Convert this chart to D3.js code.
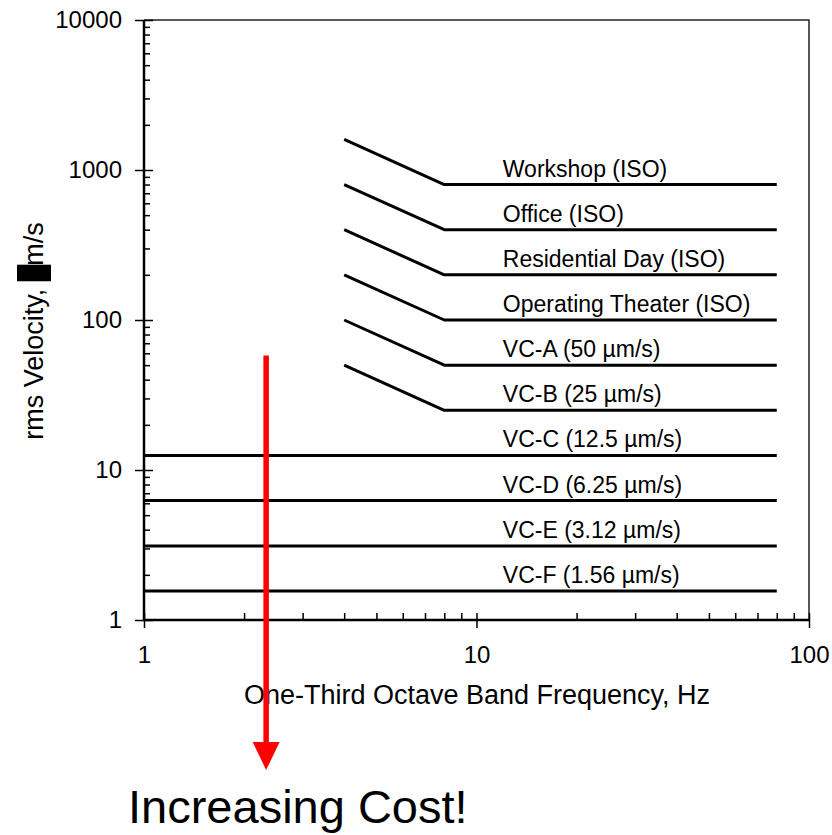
<!DOCTYPE html>
<html>
<head>
<meta charset="utf-8">
<script src="https://cdn.jsdelivr.net/npm/d3@7"></script>
<style>
  html, body { margin: 0; padding: 0; background: #fff; }
  svg { display: block; font-family: "Liberation Sans", Arial, sans-serif; }
</style>
</head>
<body>
<svg id="chart" width="832" height="835"></svg>
<script>
// ---- data ----
const slopedNames = ["Workshop (ISO)", "Office (ISO)", "Residential Day (ISO)", "Operating Theater (ISO)", "VC-A (50 \u00b5m/s)", "VC-B (25 \u00b5m/s)"];
const slopedFreqs = [4, 8, 80];
const slopedValues = [
  [1600, 800, 800],
  [800, 400, 400],
  [400, 200, 200],
  [200, 100, 100],
  [100, 50, 50],
  [50, 25, 25]
];
const flatNames = ["VC-C (12.5 \u00b5m/s)", "VC-D (6.25 \u00b5m/s)", "VC-E (3.12 \u00b5m/s)", "VC-F (1.56 \u00b5m/s)"];
const flatFreqs = [1, 80];
const flatValues = [12.5, 6.25, 3.12, 1.56];
const xTickValues = [1, 10, 100];
const yTickValues = [1, 10, 100, 1000, 10000];
const arrowFreq = 2.33;
const arrowFrom = 58;
const arrowTo = 0.1;
const xTitle = "One-Third Octave Band Frequency, Hz";
const yTitlePre = "rms Velocity, ";
const yTitleMu = "\u03bc";
const yTitlePost = "m/s";
const noteText = "Increasing Cost!";

// ---- layout ----
const svg = d3.select("#chart");
const L = 144, R = 809, T = 20, B = 620;
const x = d3.scaleLog().domain([1, 100]).range([L, R]);
const y = d3.scaleLog().domain([1, 10000]).range([B, T]);

// frame (top & right)
svg.append("path")
  .attr("d", `M${L},${T}H${R}V${B}`)
  .attr("fill", "none").attr("stroke", "#222").attr("stroke-width", 1.5);

// minor ticks
const yMinor = [];
for (let d = 1; d < 10000; d *= 10) for (let k = 2; k <= 9; k++) yMinor.push(d * k);
const xMinor = [];
for (let d = 1; d < 100; d *= 10) for (let k = 2; k <= 9; k++) xMinor.push(d * k);

const gx = svg.append("g").attr("transform", `translate(0,${B})`);
gx.call(d3.axisBottom(x).tickValues(xMinor).tickSize(-7).tickFormat(""))
  .call(g => g.select(".domain").remove());
gx.call(g => g.selectAll(".tick line").attr("stroke", "#000").attr("stroke-width", 1.5));
const gxMaj = svg.append("g").attr("transform", `translate(0,${B})`);
gxMaj.call(d3.axisBottom(x).tickValues(xTickValues).tickSize(8).tickFormat(d3.format("d")).tickPadding(18))
  .call(g => g.select(".domain").remove());
gxMaj.selectAll(".tick line").attr("y1", -7).attr("stroke", "#000").attr("stroke-width", 1.5);
gxMaj.selectAll(".tick text").attr("font-size", 24).attr("fill", "#000").attr("font-family", "Liberation Sans, Arial, sans-serif");

const gy = svg.append("g").attr("transform", `translate(${L},0)`);
gy.call(d3.axisRight(y).tickValues(yMinor).tickSize(6).tickFormat(""))
  .call(g => g.select(".domain").remove());
gy.selectAll(".tick line").attr("stroke", "#000").attr("stroke-width", 1.5);
const gyMaj = svg.append("g").attr("transform", `translate(${L},0)`);
gyMaj.call(d3.axisLeft(y).tickValues(yTickValues).tickSize(9).tickFormat(d3.format("d")).tickPadding(13))
  .call(g => g.select(".domain").remove());
gyMaj.selectAll(".tick line").attr("x2", 9).attr("x1", -9).attr("stroke", "#000").attr("stroke-width", 1.5);
gyMaj.selectAll(".tick text").attr("font-size", 24).attr("fill", "#000").attr("font-family", "Liberation Sans, Arial, sans-serif");

// axis lines
svg.append("line").attr("x1", L).attr("x2", L).attr("y1", T).attr("y2", B + 1)
  .attr("stroke", "#000").attr("stroke-width", 2.5);
svg.append("line").attr("x1", L - 1).attr("x2", R).attr("y1", B).attr("y2", B)
  .attr("stroke", "#000").attr("stroke-width", 2.5);

// series
const line = d3.line().x(d => x(d[0])).y(d => y(d[1]));
const series = slopedNames.map((n, i) => ({ name: n, pts: slopedFreqs.map((f, j) => [f, slopedValues[i][j]]), level: slopedValues[i][2] }))
  .concat(flatNames.map((n, i) => ({ name: n, pts: flatFreqs.map(f => [f, flatValues[i]]), level: flatValues[i] })));

svg.append("g").selectAll("path").data(series).join("path")
  .attr("d", d => line(d.pts))
  .attr("fill", "none").attr("stroke", "#000").attr("stroke-width", 3)
  .attr("stroke-linejoin", "round");

// labels
svg.append("g").selectAll("text").data(series).join("text")
  .attr("x", x(12)).attr("y", d => y(d.level) - 8)
  .attr("font-size", 23).attr("fill", "#000")
  .text(d => d.name);

// axis titles
svg.append("text").attr("x", 477).attr("y", 704).attr("text-anchor", "middle")
  .attr("font-size", 27).attr("fill", "#000").text(xTitle);

const yt = svg.append("g").attr("transform", "translate(43,331) rotate(-90)");
const ytxt = yt.append("text").attr("text-anchor", "middle").attr("font-size", 27).attr("fill", "#000");
ytxt.append("tspan").text(yTitlePre);
ytxt.append("tspan").text(yTitleMu);
ytxt.append("tspan").text(yTitlePost);
try {
  const ext = ytxt.node().getExtentOfChar(yTitlePre.length);
  yt.append("rect").attr("x", ext.x).attr("y", ext.y - 2).attr("width", ext.width + 1).attr("height", ext.height + 4).attr("fill", "#000");
} catch (e) {}

// red arrow
const ax = x(arrowFreq);
const tipY = y(arrowTo);
svg.append("line").attr("x1", ax).attr("x2", ax).attr("y1", y(arrowFrom)).attr("y2", tipY - 20)
  .attr("stroke", "#ff0000").attr("stroke-width", 5.5);
svg.append("path")
  .attr("d", `M${ax - 13.5},${tipY - 28}L${ax + 13.5},${tipY - 28}L${ax},${tipY}Z`)
  .attr("fill", "#ff0000");

svg.append("text").attr("x", 128).attr("y", 823).attr("font-size", 47).attr("fill", "#000").text(noteText);
</script>
</body>
</html>
